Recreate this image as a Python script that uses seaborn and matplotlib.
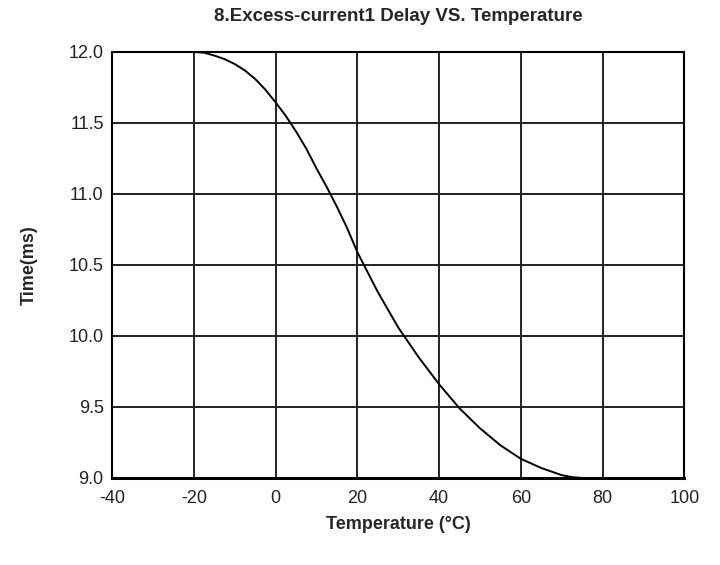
import matplotlib
matplotlib.use("Agg")
import matplotlib.pyplot as plt
import seaborn as sns
import pandas as pd
from matplotlib.ticker import MultipleLocator

temperature = [-20, -17.5, -15, -12.5, -10, -7.5, -5, -2.5, 0, 2.5, 5, 7.5, 10, 12.5, 15,
               17.5, 20, 25, 30, 35, 40, 45, 50, 55, 60, 65, 70, 72.5, 75]
delay_ms = [12.0, 11.995, 11.975, 11.95, 11.915, 11.87, 11.81, 11.735, 11.645, 11.55, 11.44,
            11.32, 11.18, 11.05, 10.91, 10.76, 10.59, 10.31, 10.06, 9.85, 9.66, 9.49,
            9.35, 9.23, 9.135, 9.07, 9.02, 9.006, 9.0]
x_ticks = [-40, -20, 0, 20, 40, 60, 80, 100]
y_ticks = [9.0, 9.5, 10.0, 10.5, 11.0, 11.5, 12.0]

sns.set_style("white")
plt.rcParams['font.family'] = ['Liberation Sans', 'DejaVu Sans']

df = pd.DataFrame({"Temperature": temperature, "Delay": delay_ms})

fig = plt.figure(figsize=(7.2, 5.65), dpi=100)
ax = fig.add_axes([0.1556, 0.154, 0.795, 0.754])
sns.lineplot(data=df, x="Temperature", y="Delay", ax=ax, color="black", linewidth=1.4)

ax.set_xlim(-40, 100)
ax.set_ylim(9.0, 12.0)
ax.set_xticks(x_ticks)
ax.set_yticks(y_ticks)
ax.set_xticklabels([str(v) for v in x_ticks], fontsize=13)
ax.set_yticklabels([f"{v:.1f}" for v in y_ticks], fontsize=13)
ax.xaxis.set_minor_locator(MultipleLocator(10))
ax.yaxis.set_minor_locator(MultipleLocator(0.25))
ax.tick_params(which="major", length=0, colors="#222222")
ax.tick_params(axis="x", which="major", pad=9)
ax.tick_params(axis="y", which="major", pad=6)
ax.tick_params(which="minor", direction="in", length=3, width=1, color="#333333")
ax.grid(True, which="major", color="#222222", linewidth=1.4)
for s in ax.spines.values():
    s.set_color("black")
    s.set_linewidth(1.5)
ax.spines["bottom"].set_linewidth(2.2)

ax.set_xlabel("Temperature (°C)", fontsize=13, fontweight="bold", labelpad=6)
ax.set_ylabel("Time(ms)", fontsize=13, fontweight="bold", labelpad=22)
ax.set_title("8.Excess-current1 Delay VS. Temperature", fontsize=13.5, fontweight="bold", pad=22)

fig.savefig("out.png", dpi=100, facecolor="white")
